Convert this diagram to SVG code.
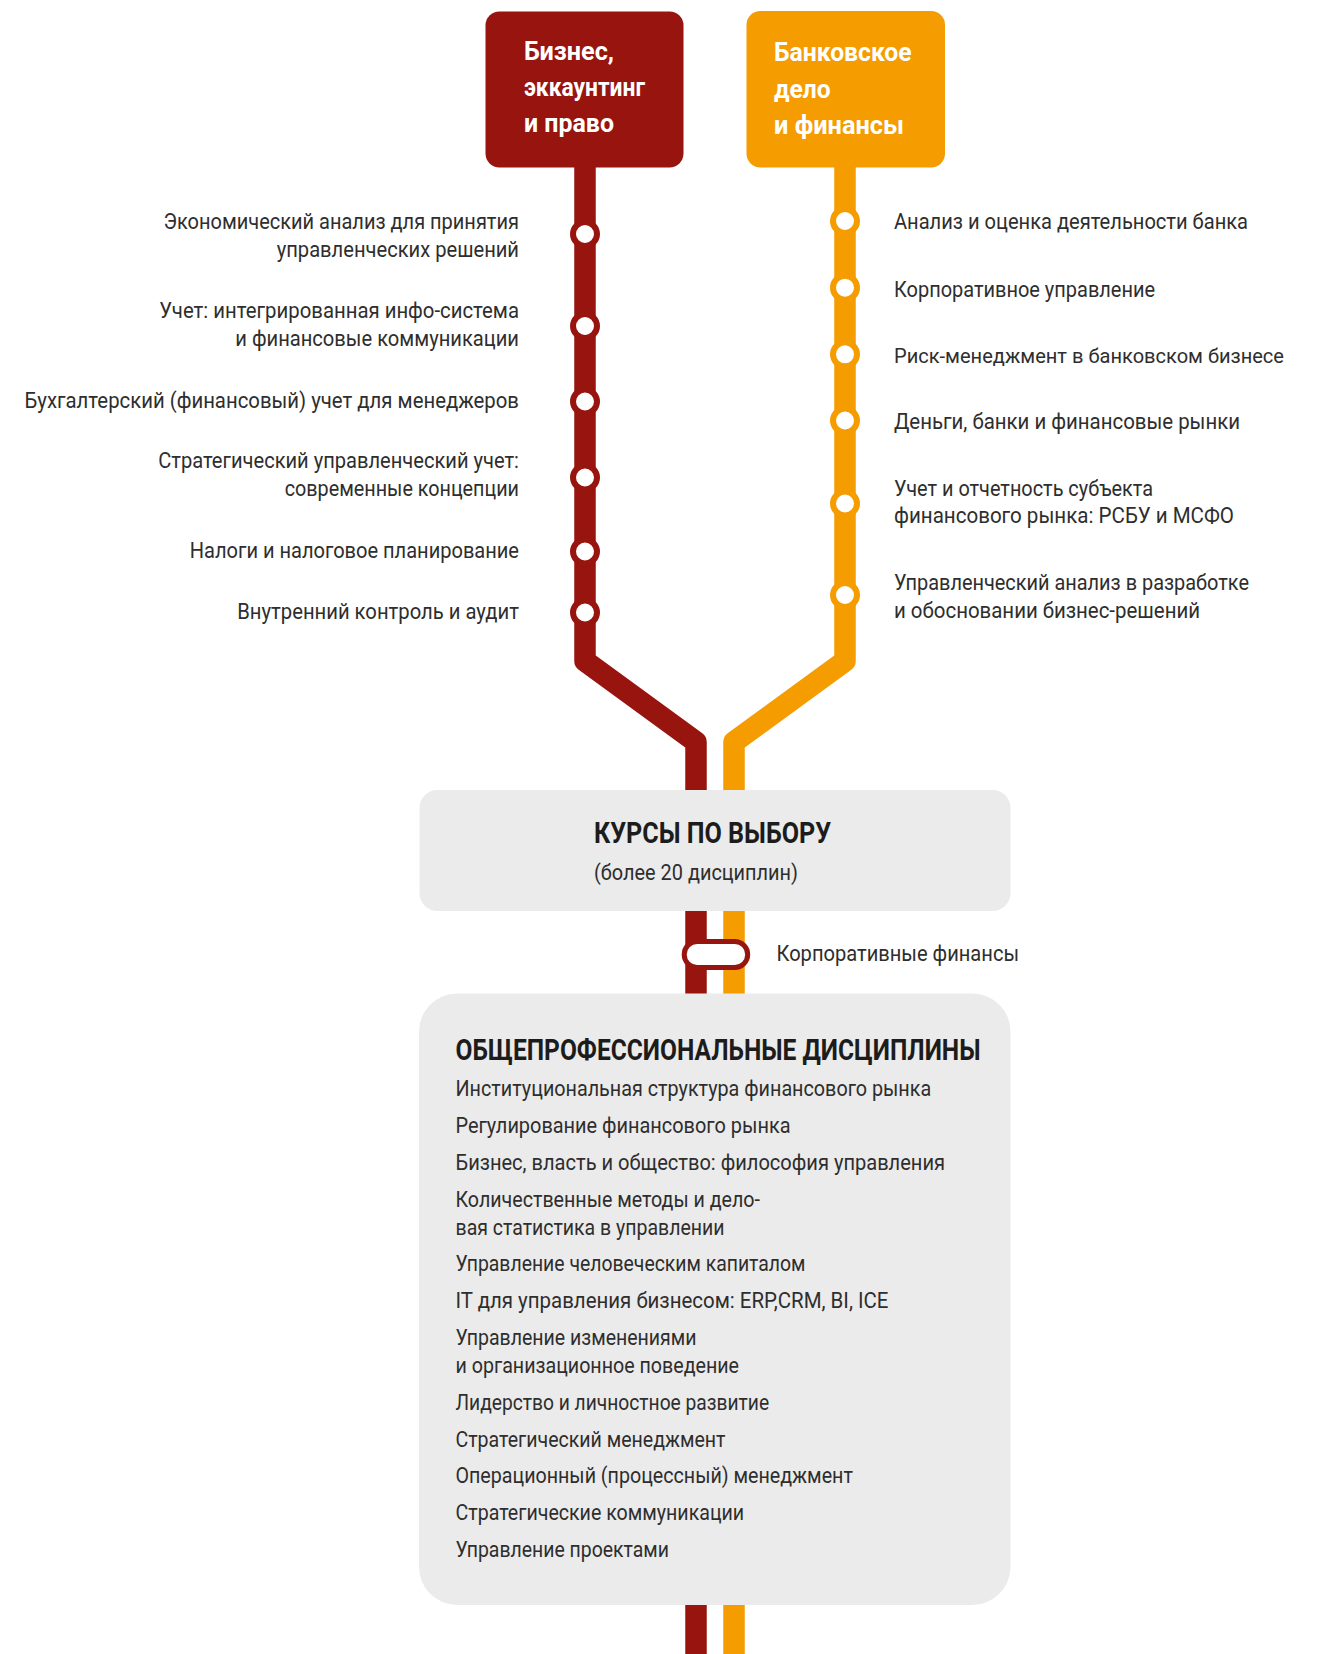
<svg xmlns="http://www.w3.org/2000/svg" width="1318" height="1654" viewBox="0 0 1318 1654">
<style>
.t{font-family:Roboto,"Liberation Sans",sans-serif;font-size:22px;fill:#2e2e2e}
.l{text-anchor:end}
.h{font-family:Roboto,"Liberation Sans",sans-serif;font-size:26px;font-weight:bold;fill:#ffffff}
.b{font-family:Roboto,"Liberation Sans",sans-serif;font-size:29px;font-weight:bold;fill:#1c1c1c}
.line{fill:none;stroke-width:21.5;stroke-linejoin:round}
.red{stroke:#97140f}
.org{stroke:#f59c00}
.st{fill:#ffffff;stroke-width:6}
.box{fill:#ebebeb}
</style>
<g id="connectors">
<path class="line red" d="M585,150 V661 L696,742 V1654"/>
<path class="line org" d="M845,150 V661 L734,742 V1654"/>
</g>
<g id="node-business">
<rect x="485.5" y="11.5" width="198" height="156" rx="14" fill="#97140f"/>
<text class="h" x="524" y="60" textLength="90" lengthAdjust="spacingAndGlyphs">Бизнес,</text>
<text class="h" x="524" y="96" textLength="121" lengthAdjust="spacingAndGlyphs">эккаунтинг</text>
<text class="h" x="524" y="131.5" textLength="90" lengthAdjust="spacingAndGlyphs">и право</text>
</g>
<g id="node-banking">
<rect x="746.5" y="11" width="198.5" height="156.5" rx="14" fill="#f59c00"/>
<text class="h" x="774" y="61" textLength="137.7" lengthAdjust="spacingAndGlyphs">Банковское</text>
<text class="h" x="774" y="97.5" textLength="56.7" lengthAdjust="spacingAndGlyphs">дело</text>
<text class="h" x="774" y="134" textLength="130" lengthAdjust="spacingAndGlyphs">и финансы</text>
</g>
<g id="stations-red">
<g id="st-r1"><circle class="st" cx="585" cy="234" r="12" stroke="#97140f"/>
<text class="t l" x="519" y="229.3" textLength="355.5" lengthAdjust="spacingAndGlyphs">Экономический анализ для принятия</text>
<text class="t l" x="519" y="256.7" textLength="242.3" lengthAdjust="spacingAndGlyphs">управленческих решений</text></g>
<g id="st-r2"><circle class="st" cx="585" cy="326" r="12" stroke="#97140f"/>
<text class="t l" x="519" y="318.3" textLength="359.7" lengthAdjust="spacingAndGlyphs">Учет: интегрированная инфо-система</text>
<text class="t l" x="519" y="346" textLength="283.7" lengthAdjust="spacingAndGlyphs">и финансовые коммуникации</text></g>
<g id="st-r3"><circle class="st" cx="585" cy="401.5" r="12" stroke="#97140f"/>
<text class="t l" x="519" y="408.3" textLength="494.5" lengthAdjust="spacingAndGlyphs">Бухгалтерский (финансовый) учет для менеджеров</text></g>
<g id="st-r4"><circle class="st" cx="585" cy="477.5" r="12" stroke="#97140f"/>
<text class="t l" x="519" y="468.3" textLength="360.8" lengthAdjust="spacingAndGlyphs">Стратегический управленческий учет:</text>
<text class="t l" x="519" y="496" textLength="234.3" lengthAdjust="spacingAndGlyphs">современные концепции</text></g>
<g id="st-r5"><circle class="st" cx="585" cy="551.5" r="12" stroke="#97140f"/>
<text class="t l" x="519" y="557.7" textLength="329.2" lengthAdjust="spacingAndGlyphs">Налоги и налоговое планирование</text></g>
<g id="st-r6"><circle class="st" cx="585" cy="612.5" r="12" stroke="#97140f"/>
<text class="t l" x="519" y="619" textLength="281.8" lengthAdjust="spacingAndGlyphs">Внутренний контроль и аудит</text></g>
</g>
<g id="stations-orange">
<g id="st-o1"><circle class="st" cx="845" cy="221" r="12" stroke="#f59c00"/>
<text class="t" x="894" y="229.3" textLength="354" lengthAdjust="spacingAndGlyphs">Анализ и оценка деятельности банка</text></g>
<g id="st-o2"><circle class="st" cx="845" cy="287.7" r="12" stroke="#f59c00"/>
<text class="t" x="894" y="296.7" textLength="261" lengthAdjust="spacingAndGlyphs">Корпоративное управление</text></g>
<g id="st-o3"><circle class="st" cx="845" cy="354.3" r="12" stroke="#f59c00"/>
<text class="t" x="894" y="363.3" style="font-size:21px" textLength="390" lengthAdjust="spacingAndGlyphs">Риск-менеджмент в банковском бизнесе</text></g>
<g id="st-o4"><circle class="st" cx="845" cy="420.5" r="12" stroke="#f59c00"/>
<text class="t" x="894" y="429.3" textLength="346" lengthAdjust="spacingAndGlyphs">Деньги, банки и финансовые рынки</text></g>
<g id="st-o5"><circle class="st" cx="845" cy="503.5" r="12" stroke="#f59c00"/>
<text class="t" x="894" y="496" textLength="259" lengthAdjust="spacingAndGlyphs">Учет и отчетность субъекта</text>
<text class="t" x="894" y="523.3" textLength="340" lengthAdjust="spacingAndGlyphs">финансового рынка: РСБУ и МСФО</text></g>
<g id="st-o6"><circle class="st" cx="845" cy="595" r="12" stroke="#f59c00"/>
<text class="t" x="894" y="590" textLength="355" lengthAdjust="spacingAndGlyphs">Управленческий анализ в разработке</text>
<text class="t" x="894" y="618.3" textLength="306" lengthAdjust="spacingAndGlyphs">и обосновании бизнес-решений</text></g>
</g>
<g id="node-electives">
<rect class="box" x="419.5" y="790" width="591" height="121" rx="18"/>
<text class="b" x="594" y="842.7" textLength="237" lengthAdjust="spacingAndGlyphs">КУРСЫ ПО ВЫБОРУ</text>
<text class="t" x="594" y="880" textLength="204" lengthAdjust="spacingAndGlyphs">(более 20 дисциплин)</text>
</g>
<g id="st-corporate-finance">
<rect x="684.2" y="941.5" width="63.5" height="26" rx="13" fill="#ffffff" stroke="#97140f" stroke-width="5"/>
<text class="t" x="776.5" y="961" textLength="242.5" lengthAdjust="spacingAndGlyphs">Корпоративные финансы</text>
</g>
<g id="node-general">
<rect class="box" x="419" y="993.5" width="591.5" height="611.5" rx="38"/>
<text class="b" x="455.5" y="1060" textLength="525" lengthAdjust="spacingAndGlyphs">ОБЩЕПРОФЕССИОНАЛЬНЫЕ ДИСЦИПЛИНЫ</text>
<text class="t" x="455.5" y="1096" textLength="475.7" lengthAdjust="spacingAndGlyphs">Институциональная структура финансового рынка</text>
<text class="t" x="455.5" y="1133" textLength="335" lengthAdjust="spacingAndGlyphs">Регулирование финансового рынка</text>
<text class="t" x="455.5" y="1170" textLength="489.5" lengthAdjust="spacingAndGlyphs">Бизнес, власть и общество: философия управления</text>
<text class="t" x="455.5" y="1206.7" textLength="304.5" lengthAdjust="spacingAndGlyphs">Количественные методы и дело-</text>
<text class="t" x="455.5" y="1235" textLength="269" lengthAdjust="spacingAndGlyphs">вая статистика в управлении</text>
<text class="t" x="455.5" y="1270.7" textLength="350" lengthAdjust="spacingAndGlyphs">Управление человеческим капиталом</text>
<text class="t" x="455.5" y="1308.3" textLength="433" lengthAdjust="spacingAndGlyphs">IT для управления бизнесом: ERP,CRM, BI, ICE</text>
<text class="t" x="455.5" y="1345" textLength="241" lengthAdjust="spacingAndGlyphs">Управление изменениями</text>
<text class="t" x="455.5" y="1373.3" textLength="283.5" lengthAdjust="spacingAndGlyphs">и организационное поведение</text>
<text class="t" x="455.5" y="1410" textLength="313.6" lengthAdjust="spacingAndGlyphs">Лидерство и личностное развитие</text>
<text class="t" x="455.5" y="1446.7" textLength="270" lengthAdjust="spacingAndGlyphs">Стратегический менеджмент</text>
<text class="t" x="455.5" y="1483.3" textLength="397.4" lengthAdjust="spacingAndGlyphs">Операционный (процессный) менеджмент</text>
<text class="t" x="455.5" y="1520" textLength="288.6" lengthAdjust="spacingAndGlyphs">Стратегические коммуникации</text>
<text class="t" x="455.5" y="1556.7" textLength="213.5" lengthAdjust="spacingAndGlyphs">Управление проектами</text>
</g>
</svg>
